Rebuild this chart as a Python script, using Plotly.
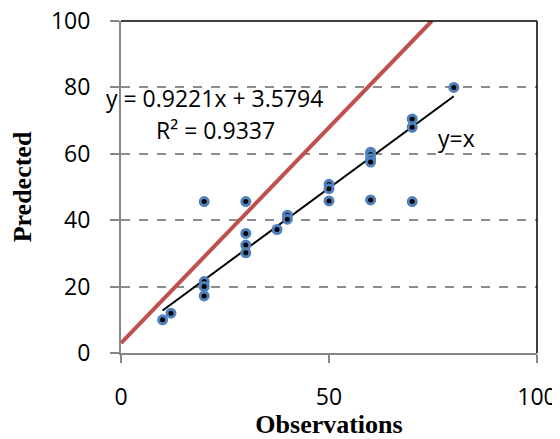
import plotly.graph_objects as go

# Data
observations = [10, 12, 20, 20, 20, 20, 30, 30, 30, 30, 37.5, 40, 40,
                50, 50, 50, 60, 60, 60, 60, 60, 70, 70, 70, 80]
predicted = [10, 12, 21.5, 20, 17.2, 45.6, 45.6, 36, 32.5, 30.2, 37.2, 41.5, 40.3,
             50.8, 49.5, 45.8, 60.5, 59.8, 58.5, 57.5, 46.1, 70.5, 68, 45.6, 80]

trend_slope = 0.9221
trend_intercept = 3.5794
trend_x = [10, 80]
trend_y = [trend_slope * x + trend_intercept for x in trend_x]

ref_x = [0, 74.7]
ref_y = [3, 100]

x_ticks = [0, 50, 100]
y_ticks = [0, 20, 40, 60, 80, 100]

fig = go.Figure()

fig.add_trace(go.Scatter(x=ref_x, y=ref_y, mode="lines",
                         line=dict(color="#C0504D", width=4), showlegend=False))
fig.add_trace(go.Scatter(x=trend_x, y=trend_y, mode="lines",
                         line=dict(color="black", width=2), showlegend=False))
fig.add_trace(go.Scatter(x=observations, y=predicted, mode="markers",
                         marker=dict(size=8, color="black",
                                     line=dict(color="#4F81BD", width=3)),
                         showlegend=False))

tick_font = dict(family="Open Sans", size=23, color="black")
title_font = dict(family="Liberation Serif", size=26, color="black")

# The page body adds an 8px offset, so the figure is sized to fit the window
fig.update_layout(
    width=552, height=431,
    margin=dict(l=113, r=23, t=13, b=86, autoexpand=False),
    paper_bgcolor="white", plot_bgcolor="white",
    xaxis=dict(range=[0, 100], tickvals=x_ticks, showgrid=False, zeroline=False,
               automargin=True, ticklabeloverflow="allow",
               showline=True, linecolor="#868686", linewidth=2,
               ticks="outside", ticklen=8, tickwidth=2, tickcolor="#868686",
               tickfont=tick_font, ticklabelstandoff=14,
               title=dict(text="<b>Observations</b>", font=title_font, standoff=4)),
    yaxis=dict(range=[0, 100], tickvals=y_ticks, showgrid=True,
               automargin=True, ticklabeloverflow="allow",
               gridcolor="#8C8C8C", gridwidth=2, griddash="dash", zeroline=False,
               showline=True, linecolor="#868686", linewidth=2,
               ticks="outside", ticklen=9, tickwidth=2, tickcolor="#868686",
               tickfont=tick_font, ticklabelstandoff=15,
               title=dict(text="<b>Predected</b>", font=title_font, standoff=16)),
    shapes=[
        dict(type="line", xref="paper", yref="paper", x0=0, x1=1, y0=1, y1=1,
             line=dict(color="black", width=1.5)),
        dict(type="line", xref="paper", yref="paper", x0=1, x1=1, y0=0, y1=1,
             line=dict(color="black", width=1.5)),
    ],
    annotations=[
        dict(x=22.5, y=76.7, xref="x", yref="y", text="y = 0.9221x + 3.5794",
             showarrow=False, font=tick_font),
        dict(x=22.6, y=67.2, xref="x", yref="y", text="R² = 0.9337",
             showarrow=False, font=tick_font),
        dict(x=80.7, y=64.8, xref="x", yref="y", text="y=x",
             showarrow=False, font=tick_font),
    ],
)

fig.write_html("out.html")
